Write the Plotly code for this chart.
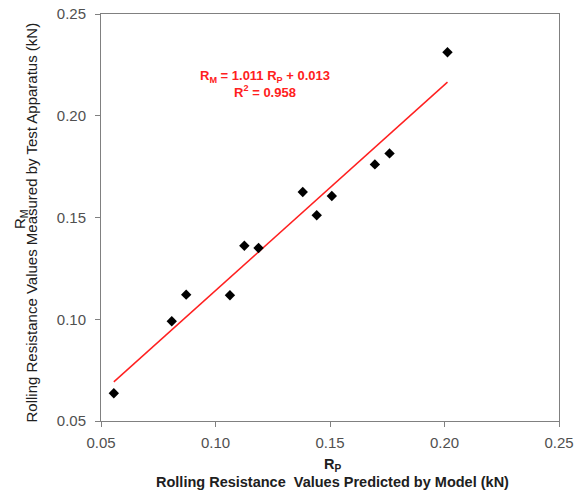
import plotly.graph_objects as go

# Data
rp_predicted = [0.0556, 0.0809, 0.0872, 0.1063, 0.1126, 0.1188, 0.1381, 0.1442, 0.1508, 0.1696, 0.1760, 0.2013]
rm_measured = [0.0636, 0.0990, 0.1121, 0.1118, 0.1361, 0.1350, 0.1625, 0.1511, 0.1606, 0.1761, 0.1815, 0.2312]
trend_x = [0.0556, 0.2013]
trend_y = [0.0692, 0.2165]
tick_vals = [0.05, 0.10, 0.15, 0.20, 0.25]
tick_text = ["0.05", "0.10", "0.15", "0.20", "0.25"]

FONT = "Liberation Sans, Arial, sans-serif"

fig = go.Figure()
fig.add_trace(go.Scatter(
    x=trend_x, y=trend_y, mode="lines",
    line=dict(color="#ff2020", width=1.5), showlegend=False, hoverinfo="skip"))
fig.add_trace(go.Scatter(
    x=rp_predicted, y=rm_measured, mode="markers",
    marker=dict(symbol="diamond", size=8, color="black"), showlegend=False))

fig.add_annotation(
    x=0.1216, y=0.2158, xref="x", yref="y",
    text="<b>R<sub>M</sub> = 1.011 R<sub>P</sub> + 0.013<br>R<sup>2</sup> = 0.958</b>",
    showarrow=False, font=dict(family=FONT, size=13, color="#ff2020"), align="center")

# axis titles as annotations (tighter line spacing than a two-line title)
fig.add_annotation(x=-0.1507, y=0.4877, xref="paper", yref="paper", textangle=-90,
    text="Rolling Resistance Values Measured by Test Apparatus (kN)", showarrow=False,
    font=dict(family=FONT, size=15, color="#202020"), xanchor="center", yanchor="middle")
fig.add_annotation(x=-0.1769, y=0.496, xref="paper", yref="paper", textangle=-90,
    text="R<sub>M</sub>", showarrow=False,
    font=dict(family=FONT, size=15, color="#202020"), xanchor="center", yanchor="middle")
fig.add_annotation(x=0.5044, y=-0.1499, xref="paper", yref="paper",
    text="<b>Rolling Resistance  Values Predicted by Model (kN)</b>", showarrow=False,
    font=dict(family=FONT, size=14.5, color="#202020"), xanchor="center", yanchor="middle")
fig.add_annotation(x=0.5044, y=-0.1081, xref="paper", yref="paper",
    text="<b>R<sub>P</sub></b>", showarrow=False,
    font=dict(family=FONT, size=14.5, color="#202020"), xanchor="center", yanchor="middle")

axis_common = dict(
    range=[0.05, 0.25], tickvals=tick_vals, ticktext=tick_text,
    showgrid=False, zeroline=False, showline=True, linecolor="#808080", linewidth=1,
    mirror=True, ticks="outside", ticklen=5, tickcolor="#808080",
    automargin=False, ticklabeloverflow="allow",
    tickfont=dict(family=FONT, size=15, color="#505050"))

fig.update_xaxes(**axis_common, ticklabelstandoff=3)
fig.update_yaxes(**axis_common, ticklabelstandoff=6)

fig.update_layout(
    width=574, height=492,
    margin=dict(l=101, r=15, t=14, b=71),
    paper_bgcolor="white", plot_bgcolor="white")

# remove the default 8px page margin so the figure fills the window exactly
fig.write_html("out.html", config={"displayModeBar": False},
               post_script="document.body.style.margin='0';")
